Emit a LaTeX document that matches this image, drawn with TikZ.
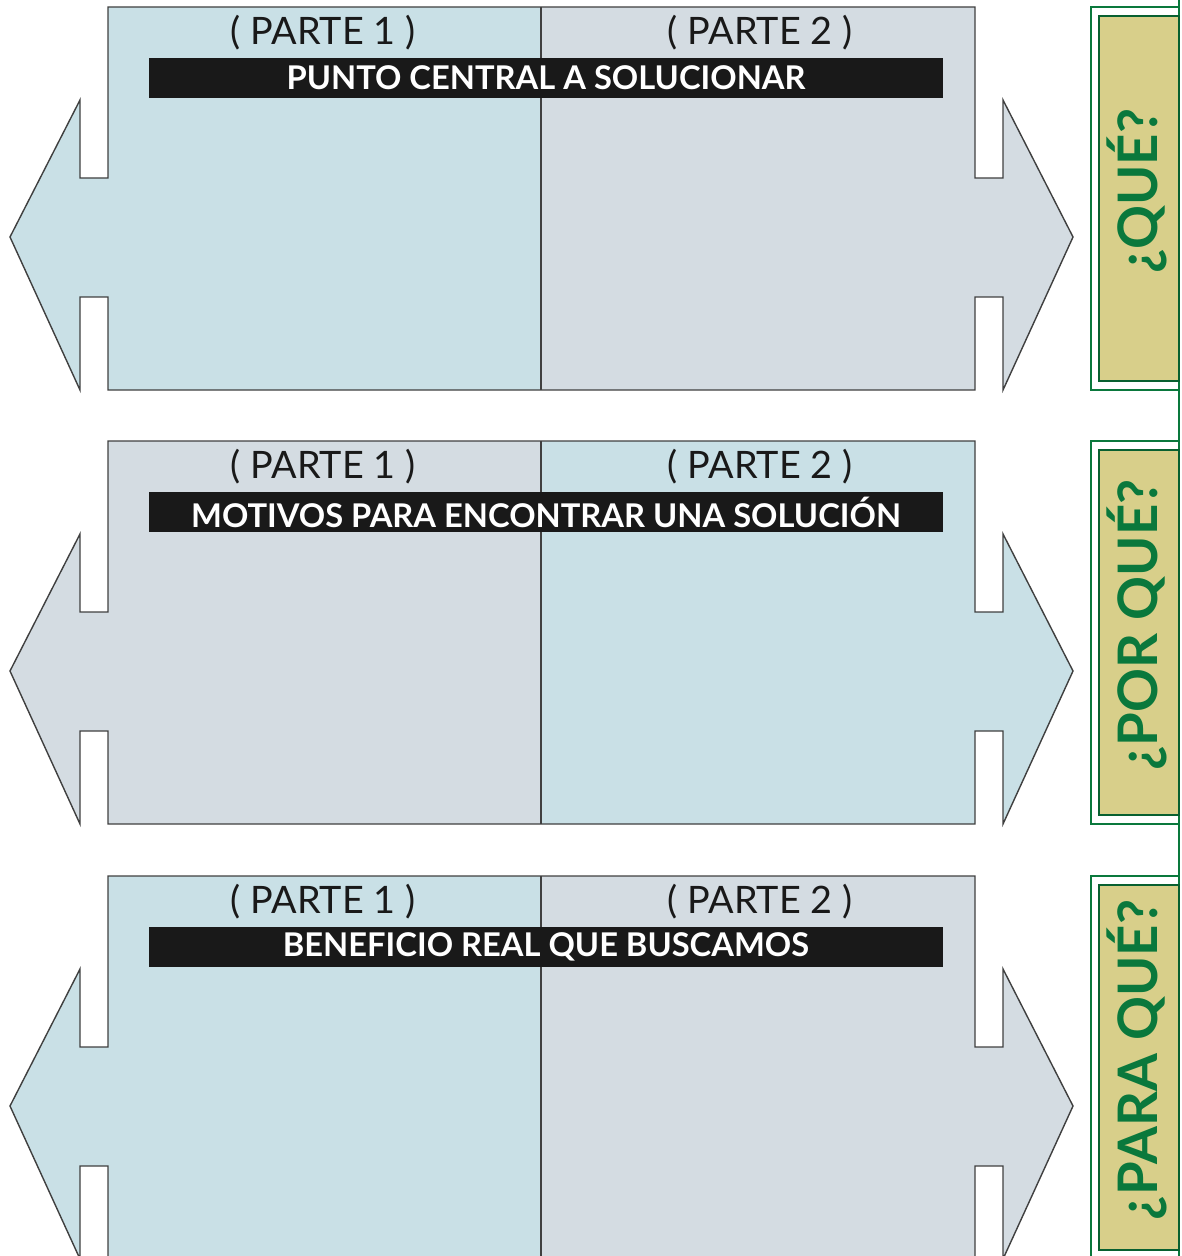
\documentclass[tikz,border=0pt]{standalone}
\usepackage{fontspec}
\setmainfont{Lato}
\definecolor{panelblue}{RGB}{201,224,230}
\definecolor{panelgray}{RGB}{212,220,226}
\definecolor{taboil}{RGB}{216,207,138}
\definecolor{tabgreen}{RGB}{10,120,60}
\begin{document}
\begin{tikzpicture}[x=0.02cm, y=-0.02cm,
    outline/.style={draw=black!75, line width=0.8pt, line join=miter},
    parte/.style={font=\fontsize{21.5}{21.5}\selectfont, text=black!90},
    bar/.style={fill=black!90, minimum width=15.88cm, minimum height=0.8cm, inner sep=0pt,
        text=white, font=\bfseries\fontsize{18.6}{18.6}\selectfont},
    tabtext/.style={rotate=90, text=tabgreen, font=\bfseries\fontsize{31}{31}\selectfont}]
    \useasboundingbox (0, 0) rectangle (1181, 1256);
    \clip (0, 0) rectangle (1181, 1256);

    % long green line on the right
    \draw[tabgreen, line width=0.8pt] (1179, 0) -- (1179, 1256);

    \foreach \oy/\lcol/\rcol/\title/\tab/\n in {
        0/panelblue/panelgray/{PUNTO CENTRAL A SOLUCIONAR}/{¿QUÉ?}/a,
        434/panelgray/panelblue/{MOTIVOS PARA ENCONTRAR UNA SOLUCIÓN}/{¿POR QUÉ?}/b,
        869/panelblue/panelgray/{BENEFICIO REAL QUE BUSCAMOS}/{¿PARA QUÉ?}/c} {
        \begin{scope}[yshift=-\oy*0.02cm]
            % left and right halves
            \fill[\lcol] (541, 7) -- (108, 7) -- (108, 178) -- (80, 178) -- (80, 100)
                -- (10, 237) -- (80, 390) -- (80, 297) -- (108, 297) -- (108, 390)
                -- (541, 390) -- cycle;
            \fill[\rcol] (541, 7) -- (975, 7) -- (975, 178) -- (1003, 178) -- (1003, 100)
                -- (1073, 237) -- (1003, 390) -- (1003, 297) -- (975, 297) -- (975, 390)
                -- (541, 390) -- cycle;
            \draw[outline] (108, 7) -- (975, 7) -- (975, 178) -- (1003, 178) -- (1003, 100)
                -- (1073, 237) -- (1003, 390) -- (1003, 297) -- (975, 297) -- (975, 390)
                -- (108, 390) -- (108, 297) -- (80, 297) -- (80, 390) -- (10, 237)
                -- (80, 100) -- (80, 178) -- (108, 178) -- cycle;
            \draw[outline] (541, 7) -- (541, 390);

            \node[parte] (p1-\n) at (323, 33) {( PARTE 1 )};
            \node[parte] (p2-\n) at (760, 33) {( PARTE 2 )};
            \node[bar] (bar-\n) at (546, 78) {\title};

            % tab on the right
            \draw[tabgreen, line width=0.8pt] (1179, 7) -- (1091, 7) -- (1091, 390) -- (1179, 390);
            \draw[fill=taboil, draw=tabgreen!80!black, line width=1pt] (1099, 16) rectangle (1179, 381);
            \node[tabtext] (tab-\n) at (1137, 191) {\tab};
        \end{scope}
    }
\end{tikzpicture}
\end{document}
